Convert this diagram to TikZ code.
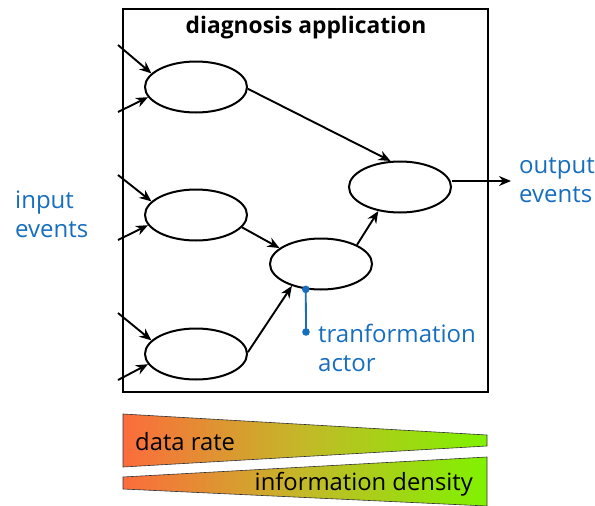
\documentclass[tikz,border=0pt]{standalone}
\usepackage{fontspec}
\setmainfont{Open Sans}
\usetikzlibrary{arrows.meta,shapes.geometric}
\definecolor{lblblue}{RGB}{23,110,191}
\definecolor{hot}{RGB}{252,108,60}
\definecolor{mid}{RGB}{195,185,40}
\definecolor{cool}{RGB}{128,242,0}
\tikzset{
  actor/.style={draw, line width=2pt, ellipse, minimum width=102pt, minimum height=51pt, inner sep=0pt},
  flow/.style={line width=1.9pt, -{Stealth[length=12pt,width=10pt]}},
  lbl/.style={text=lblblue, font=\fontsize{24}{29}\selectfont, align=left, inner sep=0pt},
  bartext/.style={font=\fontsize{23.8}{28}\selectfont, inner sep=0pt},
  wedge/.style={draw=black!80, line width=0.6pt},
}
\begin{document}
\begin{tikzpicture}[x=1pt,y=-1pt]
\useasboundingbox (0,0) rectangle (595,506);

% application frame
\node[draw, line width=1.9pt, minimum width=365pt, minimum height=383pt, inner sep=0pt] (app) at (305.5,200.5) {};
\node[font=\bfseries\fontsize{22.8}{26}\selectfont, inner sep=0pt, anchor=base] (title) at (306,33) {diagnosis application};

% transformation actors
\node[actor] (a1) at (196,87) {};
\node[actor] (a2) at (196,215) {};
\node[actor] (a3) at (196,354) {};
\node[actor] (a4) at (321,264) {};
\node[actor] (a5) at (400,187) {};

% incoming event streams
\coordinate (i1a) at (118,45);  \coordinate (i1b) at (118,112);
\coordinate (i2a) at (118,175); \coordinate (i2b) at (118,240);
\coordinate (i3a) at (118,313); \coordinate (i3b) at (118,380);
\draw[flow] (i1a) -- (a1.163);
\draw[flow] (i1b) -- (a1.-168);
\draw[flow] (i2a) -- (a2.163);
\draw[flow] (i2b) -- (a2.-168);
\draw[flow] (i3a) -- (a3.163);
\draw[flow] (i3b) -- (a3.-168);

% internal flows
\draw[flow] (a1.-2) -- (a5.110);
\draw[flow] (a2.-15) -- (a4.159);
\draw[flow] (a3.2) -- (a4.-143);
\draw[flow] (a4.28) -- (a5.-132);

% outgoing events
\coordinate (out) at (511,181);
\draw[flow] (a5.east |- out) -- (out);

% labels
\node[lbl, anchor=base west] (inl) at (15,208) {input};
\node[lbl, anchor=base west] (inl2) at (15,237) {events};
\node[lbl, anchor=base west] (outl) at (519,173) {output};
\node[lbl, anchor=base west] (outl2) at (519,202) {events};

% actor annotation
\node[lbl, anchor=base west] (actl) at (318,342) {tranformation};
\node[lbl, anchor=base west] (actl2) at (318,371) {actor};
\coordinate (pin) at (306,332);
\draw[lblblue, line width=1.8pt] (a4.-121) -- (pin);
\fill[lblblue] (a4.-121) circle (3.8pt) (pin) circle (3.8pt);

% data rate vs. information density
\path[wedge, left color=hot, right color=cool, middle color=mid]
  (123,414) -- (487,435) -- (487,446) -- (123,467) -- cycle;
\node[bartext, anchor=base west] (rate) at (135,450) {data rate};
\path[wedge, left color=hot, right color=cool, middle color=mid]
  (123,477) -- (487,457) -- (487,506) -- (123,489) -- cycle;
\node[bartext, anchor=base east] (dens) at (473,490) {information density};
\end{tikzpicture}
\end{document}
